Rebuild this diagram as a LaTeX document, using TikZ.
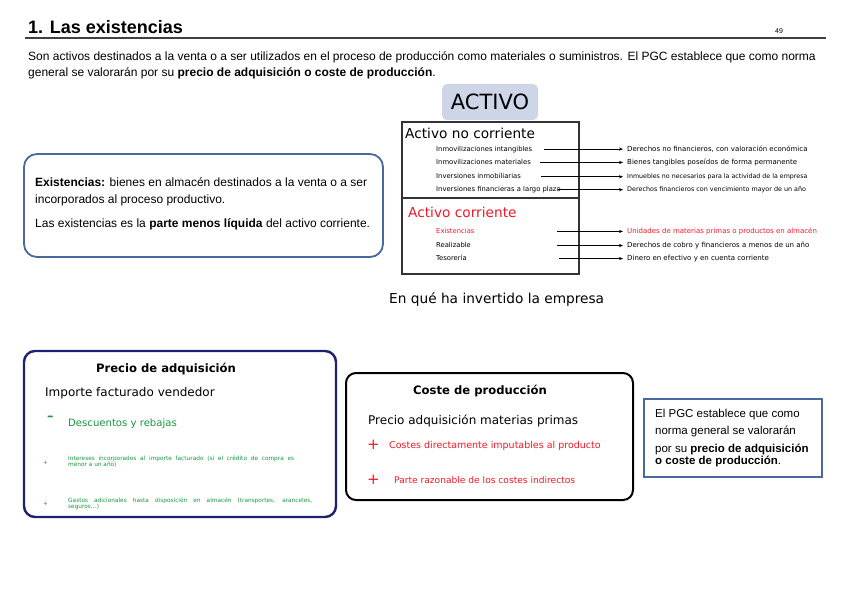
\documentclass[tikz,border=0pt]{standalone}
\usepackage{fontspec}
\setmainfont{Liberation Sans}
\newfontfamily\dvsans{DejaVu Sans}
\usetikzlibrary{arrows.meta}
\definecolor{activofill}{RGB}{205,213,230}
\definecolor{boxblue}{RGB}{72,104,158}
\definecolor{navyblue}{RGB}{28,34,112}
\definecolor{rojo}{RGB}{240,25,40}
\definecolor{verde}{RGB}{25,150,65}
\tikzset{
  txt/.style={anchor=base west, inner sep=0pt},
  bodytext/.style={txt, font=\fontsize{12}{14}\selectfont},
  itemtext/.style={txt, font=\dvsans\fontsize{6.8}{7}\selectfont},
  desctext/.style={txt, font=\dvsans\fontsize{7}{8}\selectfont},
  flecha/.style={-{Stealth[length=4pt,width=3.2pt]}, line width=0.9pt, shorten >=4pt},
  tinytext/.style={anchor=north west, inner sep=0pt, text=verde, align=justify,
    font=\dvsans\fontsize{5.8}{6}\selectfont}
}
\begin{document}
\begin{tikzpicture}[x=1pt, y=-1pt]
  \useasboundingbox[fill=white] (0,0) rectangle (848,599);
  % heading
  \node[txt, font=\bfseries\fontsize{18}{20}\selectfont] (title) at (28,34) {1. Las existencias};
  \node[txt, font=\fontsize{7}{8}\selectfont] (page) at (775,34) {49};
  \coordinate (rule-l) at (25,38);
  \coordinate (rule-r) at (826,38);
  \draw[line width=1.3pt, black!75] (rule-l) -- (rule-r);
  \node[bodytext] (intro1) at (28,61) {Son activos destinados a la venta o a ser utilizados en el proceso de producción como materiales o suministros. El PGC establece que como norma};
  \node[bodytext] (intro2) at (28,77) {general se valorarán por su \textbf{precio de adquisición o coste de producción}.};

  % existencias box
  \draw[boxblue, line width=1.8pt, rounded corners=13pt] (24,154) rectangle (383,257);
  \node[bodytext] (exdef1) at (35,186) {\textbf{Existencias:} bienes en almacén destinados a la venta o a ser};
  \node[bodytext] (exdef2) at (35,203) {incorporados al proceso productivo.};
  \node[bodytext] (exdef3) at (35,227) {Las existencias es la \textbf{parte menos líquida} del activo corriente.};

  % activo
  \node[fill=activofill, rounded corners=5pt, minimum width=96pt, minimum height=36pt,
    font=\dvsans\fontsize{21}{24}\selectfont] (activo) at (490,102) {ACTIVO};
  \draw[line width=1.2pt, black!80] (402,122) rectangle (579,274);
  \draw[line width=1.2pt, black!80] (402,198) -- (579,198);
  \node[txt, font=\dvsans\fontsize{13.7}{15}\selectfont] (anc) at (405,139) {Activo no corriente};
  \node[txt, text=rojo, font=\dvsans\fontsize{13.7}{15}\selectfont] (ac) at (408,217) {Activo corriente};

  \node[itemtext] (intang) at (436,151.5) {Inmovilizaciones intangibles};
  \node[itemtext] (mater) at (436,164.5) {Inmovilizaciones materiales};
  \node[itemtext] (inmob) at (436,178.5) {Inversiones inmobiliarias};
  \node[itemtext] (financ) at (436,191.5) {Inversiones financieras a largo plazo};
  \node[itemtext, text=rojo] (exist) at (436,233.5) {Existencias};
  \node[itemtext] (realiz) at (436,247.5) {Realizable};
  \node[itemtext] (tesor) at (436,260.5) {Tesorería};

  \node[desctext] (intang-d) at (627,151.5) {Derechos no financieros, con valoración económica};
  \node[desctext] (mater-d) at (627,164.5) {Bienes tangibles poseídos de forma permanente};
  \node[desctext, font=\dvsans\fontsize{6.3}{7}\selectfont] (inmob-d) at (627,178.5) {Inmuebles no necesarios para la actividad de la empresa};
  \node[desctext, font=\dvsans\fontsize{6.4}{7}\selectfont] (financ-d) at (627,191.5) {Derechos financieros con vencimiento mayor de un año};
  \node[desctext, text=rojo] (exist-d) at (627,233.5) {Unidades de materias primas o productos en almacén};
  \node[desctext] (realiz-d) at (627,247.5) {Derechos de cobro y financieros a menos de un año};
  \node[desctext] (tesor-d) at (627,260.5) {Dinero en efectivo y en cuenta corriente};

  \coordinate (intang-s) at (544,0);
  \coordinate (mater-s) at (540,0);
  \coordinate (inmob-s) at (541,0);
  \coordinate (financ-s) at (558,0);
  \coordinate (exist-s) at (557,0);
  \coordinate (realiz-s) at (557,0);
  \coordinate (tesor-s) at (559,0);
  \foreach \row in {intang,mater,inmob,financ,exist,realiz,tesor}
    \draw[flecha] (\row-d.west -| \row-s) -- (\row-d.west);

  \node[txt, font=\dvsans\fontsize{13.7}{15}\selectfont] (invertido) at (389,303) {En qué ha invertido la empresa};

  % precio de adquisicion
  \draw[navyblue, line width=2.4pt, rounded corners=11pt] (24,351) rectangle (336,517);
  \node[anchor=base, inner sep=0pt, font=\dvsans\bfseries\fontsize{11.6}{12}\selectfont] (padq) at (166,372) {Precio de adquisición};
  \node[txt, font=\dvsans\fontsize{12}{14}\selectfont] (importe) at (45,396) {Importe facturado vendedor};
  \node[txt, text=verde, font=\dvsans\bfseries\fontsize{13}{14}\selectfont] (menos) at (47,420) {–};
  \node[txt, text=verde, font=\dvsans\fontsize{10.1}{11}\selectfont] (dto) at (68,426) {Descuentos y rebajas};
  \node[txt, text=verde, font=\dvsans\fontsize{5.6}{6}\selectfont] (mas1) at (43,464) {+};
  \node[tinytext, text width=226pt] (interes) at (68,456) {Intereses incorporados al importe facturado (si el crédito de compra es\linebreak menor a un año)};
  \node[txt, text=verde, font=\dvsans\fontsize{5.6}{6}\selectfont] (mas2) at (43,505) {+};
  \node[tinytext, text width=244pt] (gastos) at (68,498) {Gastos adicionales hasta disposición en almacén (transportes, aranceles,\linebreak seguros…)};

  % coste de produccion
  \draw[black, line width=2pt, rounded corners=10pt] (346,373) rectangle (633,500);
  \node[anchor=base, inner sep=0pt, font=\dvsans\bfseries\fontsize{11.6}{12}\selectfont] (cprod) at (480,394) {Coste de producción};
  \node[txt, font=\dvsans\fontsize{12}{13}\selectfont] (pamp) at (368,424) {Precio adquisición materias primas};
  \node[txt, text=rojo, font=\dvsans\fontsize{15}{15}\selectfont] (mas3) at (367,449) {+};
  \node[txt, text=rojo, font=\dvsans\fontsize{9.5}{10}\selectfont] (cdir) at (389,448) {Costes directamente imputables al producto};
  \node[txt, text=rojo, font=\dvsans\fontsize{15}{15}\selectfont] (mas4) at (367,484) {+};
  \node[txt, text=rojo, font=\dvsans\fontsize{9.1}{10}\selectfont] (cind) at (394,483) {Parte razonable de los costes indirectos};

  % PGC
  \draw[boxblue, line width=1.5pt] (644,399) rectangle (822,477);
  \node[txt, font=\fontsize{11.5}{12}\selectfont] (pgc1) at (655,417) {El PGC establece que como};
  \node[txt, font=\fontsize{11.5}{12}\selectfont] (pgc2) at (655,434) {norma general se valorarán};
  \node[txt, font=\fontsize{11.5}{12}\selectfont] (pgc3) at (655,452) {por su \textbf{precio de adquisición}};
  \node[txt, font=\fontsize{11.5}{12}\selectfont] (pgc4) at (655,464) {\textbf{o coste de producción}.};
\end{tikzpicture}
\end{document}
